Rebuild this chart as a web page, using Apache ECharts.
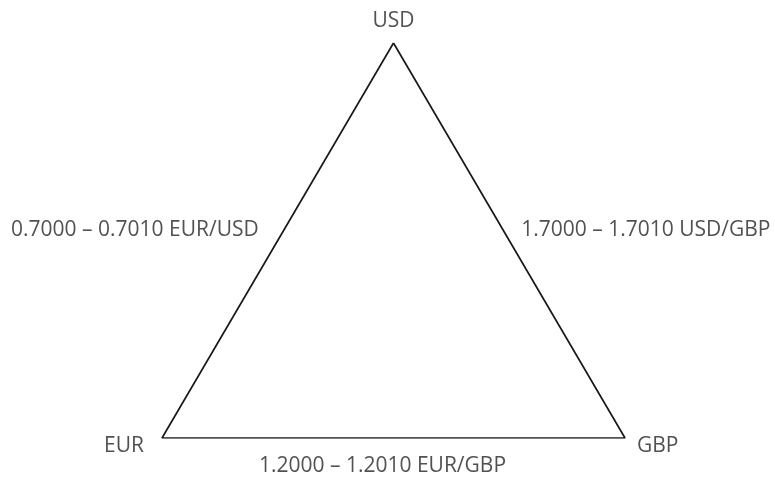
<!DOCTYPE html>
<html>
<head>
<meta charset="utf-8">
<style>
  html, body { margin: 0; padding: 0; background: #fff; }
  #main { width: 775px; height: 479px; }
</style>
<script src="https://cdn.jsdelivr.net/npm/echarts@6/dist/echarts.min.js"></script>
</head>
<body>
<div id="main"></div>
<script>
// currencies at the corners of the triangle (unit coordinates)
var currencies = ['USD', 'EUR', 'GBP'];
var cornerX = [0.5, 0, 1];
var cornerY = [1, 0, 0];

// quotes on each side: [from corner, to corner]
var sides = [[0, 1], [0, 2], [1, 2]];
var pairs = ['EUR/USD', 'USD/GBP', 'EUR/GBP'];
var bids = ['0.7000', '1.7000', '1.2000'];
var asks = ['0.7010', '1.7010', '1.2010'];

var myChart = echarts.init(document.getElementById('main'));

var fontStyle = {
  fontFamily: 'Open Sans',
  fontSize: 21,
  color: '#262626'
};

var cornerPos = ['top', 'left', 'right'];
var cornerOffset = [[0, -1], [-8, 8], [2, 8]];
var cornerData = currencies.map(function (c, i) {
  return {
    name: c,
    value: [cornerX[i], cornerY[i]],
    label: { position: cornerPos[i], offset: cornerOffset[i] }
  };
});

var sidePos = ['left', 'right', 'bottom'];
var sideOffset = [[-9, -10], [2, -10], [-11, 8]];
var sideData = sides.map(function (s, i) {
  var a = s[0], b = s[1];
  return {
    name: bids[i] + ' – ' + asks[i] + ' ' + pairs[i],
    value: [(cornerX[a] + cornerX[b]) / 2, (cornerY[a] + cornerY[b]) / 2],
    label: { position: sidePos[i], offset: sideOffset[i] }
  };
});

var outline = [0, 1, 2, 0].map(function (i) {
  return [cornerX[i], cornerY[i]];
});

var option = {
  animation: false,
  grid: { left: 162, right: 150, top: 43, bottom: 41 },
  xAxis: { type: 'value', min: 0, max: 1, show: false },
  yAxis: { type: 'value', min: 0, max: 1, show: false },
  series: [
    {
      type: 'line',
      data: outline,
      symbol: 'none',
      lineStyle: { color: '#1a1a1a', width: 1.7 },
      silent: true
    },
    {
      type: 'scatter',
      data: cornerData,
      symbolSize: 0,
      label: Object.assign({ show: true, formatter: '{b}', distance: 10 }, fontStyle)
    },
    {
      type: 'scatter',
      data: sideData,
      symbolSize: 0,
      label: Object.assign({ show: true, formatter: '{b}', distance: 10 }, fontStyle)
    }
  ]
};

myChart.setOption(option);
</script>
</body>
</html>
